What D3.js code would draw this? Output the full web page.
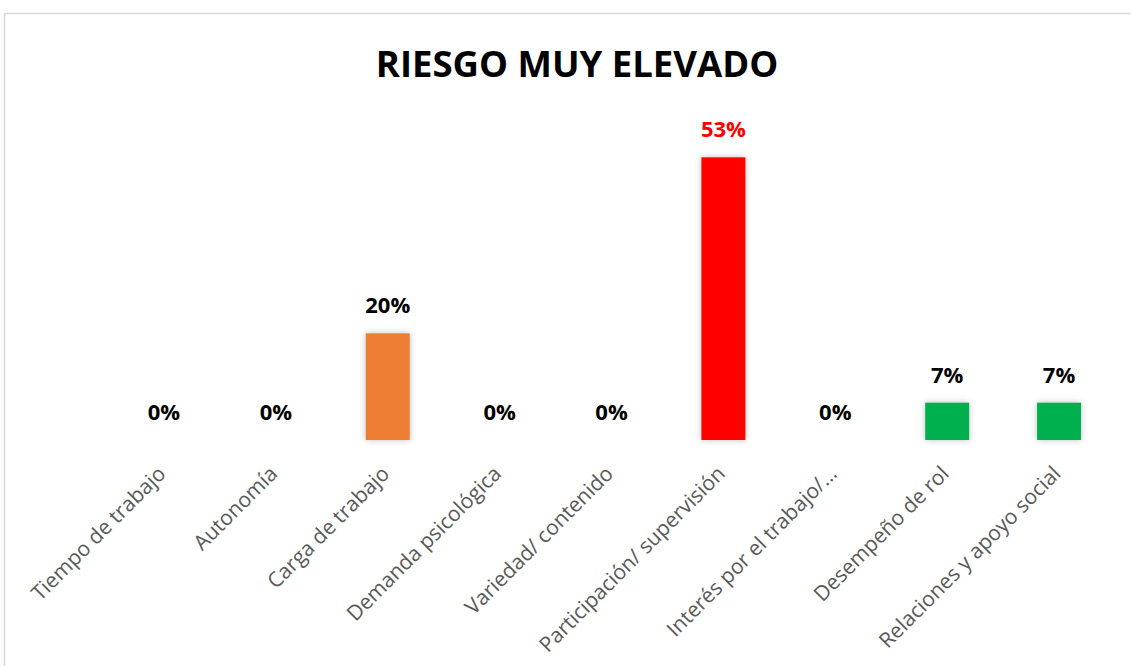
<!DOCTYPE html>
<html>
<head>
<meta charset="utf-8">
<script src="https://cdn.jsdelivr.net/npm/d3@7"></script>
<style>
  body { margin: 0; background: #fff; }
  svg { display: block; }
</style>
</head>
<body>
<svg id="chart" width="1131" height="666"></svg>
<script>
// chart values
const categories = [
    'Tiempo de trabajo', 'Autonomía', 'Carga de trabajo', 'Demanda psicológica',
    'Variedad/ contenido', 'Participación/ supervisión', 'Interés por el trabajo/...',
    'Desempeño de rol', 'Relaciones y apoyo social'
];
const values = [0, 0, 0.20, 0, 0, 0.53, 0, 0.07, 0.07];
const barColors = ['#ED7D31', '#ED7D31', '#ED7D31', '#ED7D31', '#ED7D31', '#FF0000', '#00B050', '#00B050', '#00B050'];
const labelColors = ['#000', '#000', '#000', '#000', '#000', '#FF0000', '#000', '#000', '#000'];
const title = 'RIESGO MUY ELEVADO';

const data = categories.map((c, i) => ({ name: c, value: values[i], color: barColors[i], labelColor: labelColors[i] }));

const svg = d3.select('#chart');

// chart border
svg.append('rect')
    .attr('x', 4.5).attr('y', 13.5)
    .attr('width', 1140).attr('height', 670)
    .attr('fill', 'none')
    .attr('stroke', '#d9d9d9')
    .attr('stroke-width', 1.5);

const defs = svg.append('defs');
const f = defs.append('filter').attr('id', 'glow')
    .attr('x', '-40%').attr('y', '-40%').attr('width', '180%').attr('height', '180%');
f.append('feDropShadow')
    .attr('dx', 0).attr('dy', 0)
    .attr('stdDeviation', 3)
    .attr('flood-color', '#000')
    .attr('flood-opacity', 0.25);

const xScale = d3.scaleBand()
    .domain(categories)
    .range([108, 1115])
    .paddingInner(0.607)
    .paddingOuter(0.3035);

const yScale = d3.scaleLinear()
    .domain([0, 0.6])
    .range([440, 120]);

svg.append('text')
    .attr('x', 577)
    .attr('y', 77)
    .attr('text-anchor', 'middle')
    .style('font-family', '"Open Sans", sans-serif')
    .style('font-weight', 'bold')
    .style('font-size', '36.5px')
    .attr('fill', '#000')
    .text(title);

svg.append('g')
    .selectAll('rect')
    .data(data)
    .join('rect')
    .attr('x', d => xScale(d.name))
    .attr('y', d => yScale(d.value))
    .attr('width', xScale.bandwidth())
    .attr('height', d => yScale(0) - yScale(d.value))
    .attr('fill', d => d.color)
    .attr('filter', 'url(#glow)');

svg.append('g')
    .selectAll('text')
    .data(data)
    .join('text')
    .attr('x', d => xScale(d.name) + xScale.bandwidth() / 2)
    .attr('y', d => yScale(d.value) - 20)
    .attr('text-anchor', 'middle')
    .style('font-family', '"Open Sans", sans-serif')
    .style('font-weight', 'bold')
    .style('font-size', '22px')
    .attr('fill', d => d.labelColor)
    .text(d => Math.round(d.value * 100) + '%');

// category axis, no line or ticks
const xAxis = svg.append('g')
    .attr('transform', 'translate(0,440)')
    .call(d3.axisBottom(xScale).tickSize(0).tickPadding(0));
xAxis.select('.domain').remove();
xAxis.selectAll('text')
    .attr('text-anchor', 'end')
    .attr('dy', 0)
    .attr('transform', 'translate(3,35) rotate(-45)')
    .style('font-family', '"Open Sans", sans-serif')
    .style('font-size', '21px')
    .attr('fill', '#595959');
</script>
</body>
</html>
